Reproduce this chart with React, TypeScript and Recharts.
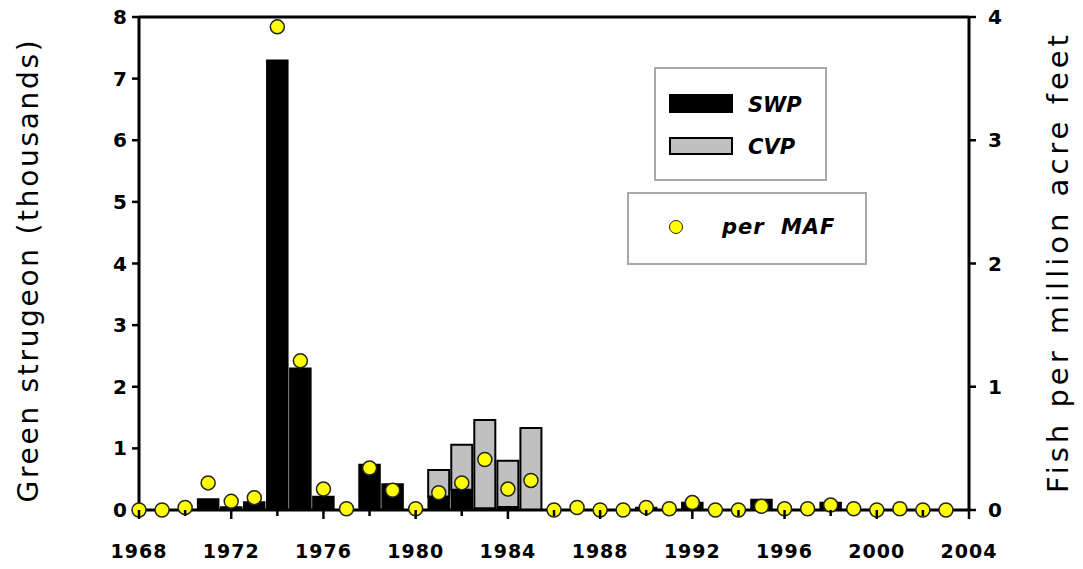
import { Bar, ComposedChart, Label, Legend, Line, XAxis, YAxis } from 'recharts'

// Green sturgeon salvage at the SWP and CVP export facilities, 1968-2003
const years = [
  1968, 1969, 1970, 1971, 1972, 1973, 1974, 1975, 1976, 1977, 1978, 1979,
  1980, 1981, 1982, 1983, 1984, 1985, 1986, 1987, 1988, 1989, 1990, 1991,
  1992, 1993, 1994, 1995, 1996, 1997, 1998, 1999, 2000, 2001, 2002, 2003,
]
// thousands of fish
const swp = [
  0, 0, 0, 0.18, 0.05, 0.13, 7.3, 2.3, 0.22, 0, 0.74, 0.42,
  0, 0.22, 0.33, 0.03, 0.05, 0, 0, 0, 0, 0, 0.04, 0,
  0.12, 0, 0, 0.17, 0, 0, 0.12, 0, 0, 0, 0, 0,
]
const cvp = [
  0, 0, 0, 0, 0, 0, 0, 0, 0, 0, 0, 0,
  0, 0.43, 0.73, 1.43, 0.75, 1.33, 0, 0, 0, 0, 0, 0,
  0, 0, 0, 0, 0, 0, 0, 0, 0, 0, 0, 0,
]
// fish per million acre feet
const perMaf = [
  0, 0, 0.02, 0.22, 0.07, 0.1, 3.92, 1.21, 0.17, 0.01, 0.34, 0.16,
  0.01, 0.14, 0.22, 0.41, 0.17, 0.24, 0, 0.02, 0, 0, 0.02, 0.01,
  0.06, 0, 0, 0.03, 0.01, 0.01, 0.04, 0.01, 0, 0.01, 0, 0,
]

const bottomTicks = [
  1968, 1970, 1972, 1974, 1976, 1978, 1980, 1982, 1984, 1986, 1988, 1990,
  1992, 1994, 1996, 1998, 2000, 2002, 2004,
]
const topTicks = [1968, 1972, 1976, 1980, 1984, 1988, 1992, 1996, 2000, 2004]
const leftTicks = [0, 1, 2, 3, 4, 5, 6, 7, 8]
const rightTicks = [0, 1, 2, 3, 4]

const data = years.map((year, i) => ({
  year,
  swp: swp[i],
  cvp: cvp[i],
  perMaf: perMaf[i],
}))

const FONT = '"DejaVu Sans", sans-serif'
const tickFont = { fill: '#000', fontSize: 20, fontWeight: 700, fontFamily: FONT }

function YearTick(props: any) {
  const { x, y, payload } = props
  const major = (payload.value - 1968) % 4 === 0
  return (
    <g>
      <line x1={x} x2={x} y1={y} y2={y + (major ? 9 : 6)} stroke="#000" strokeWidth={2.5} />
      {major && (
        <text
          x={x}
          y={y + 41}
          textAnchor="middle"
          dominantBaseline="central"
          fill="#000"
          fontSize={19}
          fontWeight={700}
          fontFamily={FONT}
          letterSpacing={1}
        >
          {payload.value}
        </text>
      )}
    </g>
  )
}

function LegendBoxes() {
  const box = {
    position: 'absolute' as const,
    border: '2px solid #a8a8a8',
    background: '#fff',
    boxSizing: 'border-box' as const,
  }
  const txt = {
    position: 'absolute' as const,
    fontFamily: FONT,
    fontSize: 21,
    fontWeight: 700,
    fontStyle: 'italic',
    lineHeight: '22px',
    color: '#000',
  }
  return (
    <div style={{ position: 'relative', width: 240, height: 198 }}>
      <div style={{ ...box, left: 27, top: 0, width: 173, height: 114 }}>
        <div style={{ position: 'absolute', left: 13, top: 25, width: 64, height: 19, background: '#000' }} />
        <div style={{ ...txt, left: 92, top: 25 }}>SWP</div>
        <div
          style={{
            position: 'absolute',
            left: 13,
            top: 68,
            width: 64,
            height: 18,
            background: '#c0c0c0',
            border: '2px solid #000',
            boxSizing: 'border-box',
          }}
        />
        <div style={{ ...txt, left: 92, top: 67 }}>CVP</div>
      </div>
      <div style={{ ...box, left: 0, top: 125, width: 240, height: 73 }}>
        <div
          style={{
            position: 'absolute',
            left: 40,
            top: 26,
            width: 14,
            height: 14,
            borderRadius: '50%',
            background: '#ffff00',
            border: '1.5px solid #222',
            boxSizing: 'border-box',
          }}
        />
        <div style={{ ...txt, left: 93, top: 22, wordSpacing: 8, letterSpacing: 1 }}>per MAF</div>
      </div>
    </div>
  )
}

export default function App() {
  return (
    <div style={{ marginTop: -4 }}>
      <ComposedChart
        width={1067}
        height={557}
        data={data}
        margin={{ top: 12, right: 46, left: 71, bottom: 11 }}
      >
        <XAxis
          dataKey="year"
          type="number"
          domain={[1968, 2004]}
          ticks={bottomTicks}
          interval={0}
          height={40}
          tickSize={0}
          tickMargin={0}
          tickLine={false}
          tick={<YearTick />}
          axisLine={{ stroke: '#000', strokeWidth: 3 }}
        />
        <XAxis
          xAxisId="top"
          orientation="top"
          dataKey="year"
          type="number"
          domain={[1968, 2004]}
          ticks={topTicks}
          interval={0}
          height={1}
          tickSize={9}
          tick={false}
          tickLine={{ stroke: '#000', strokeWidth: 2.5 }}
          axisLine={{ stroke: '#000', strokeWidth: 3 }}
        />
        <YAxis
          yAxisId="left"
          domain={[0, 8]}
          ticks={leftTicks}
          interval={0}
          width={60}
          tickSize={7}
          tickMargin={5}
          tick={tickFont}
          tickLine={{ stroke: '#000', strokeWidth: 2.5 }}
          axisLine={{ stroke: '#000', strokeWidth: 3 }}
        >
          <Label
            content={() => (
              <text
                x={20}
                y={266}
                transform="rotate(-90 20 266)"
                textAnchor="middle"
                dominantBaseline="central"
                fontFamily={FONT}
                fontSize={28}
                letterSpacing={2.7}
                fill="#000"
              >
                Green strugeon (thousands)
              </text>
            )}
          />
        </YAxis>
        <YAxis
          yAxisId="right"
          orientation="right"
          domain={[0, 4]}
          ticks={rightTicks}
          interval={0}
          width={60}
          tickSize={7}
          tickMargin={12}
          tick={tickFont}
          tickLine={{ stroke: '#000', strokeWidth: 2.5 }}
          axisLine={{ stroke: '#000', strokeWidth: 3 }}
        >
          <Label
            content={() => (
              <text
                x={1050}
                y={258}
                transform="rotate(-90 1050 258)"
                textAnchor="middle"
                dominantBaseline="central"
                fontFamily={FONT}
                fontSize={29}
                letterSpacing={4}
                fill="#000"
              >
                Fish per million acre feet
              </text>
            )}
          />
        </YAxis>
        <Legend
          layout="vertical"
          verticalAlign="middle"
          align="center"
          wrapperStyle={{ left: 619, top: 63, width: 240, height: 198 }}
          content={() => <LegendBoxes />}
        />
        <Bar
          yAxisId="left"
          dataKey="swp"
          name="SWP"
          stackId="fac"
          barSize={21}
          fill="#000"
          stroke="#000"
          strokeWidth={1.5}
          isAnimationActive={false}
        />
        <Bar
          yAxisId="left"
          dataKey="cvp"
          name="CVP"
          stackId="fac"
          barSize={21}
          fill="#c0c0c0"
          stroke="#000"
          strokeWidth={2}
          isAnimationActive={false}
        />
        <Line
          yAxisId="right"
          dataKey="perMaf"
          name="per MAF"
          stroke="none"
          dot={{ r: 7, fill: '#ffff00', stroke: '#222', strokeWidth: 1.5 }}
          activeDot={false}
          isAnimationActive={false}
        />
      </ComposedChart>
    </div>
  )
}
